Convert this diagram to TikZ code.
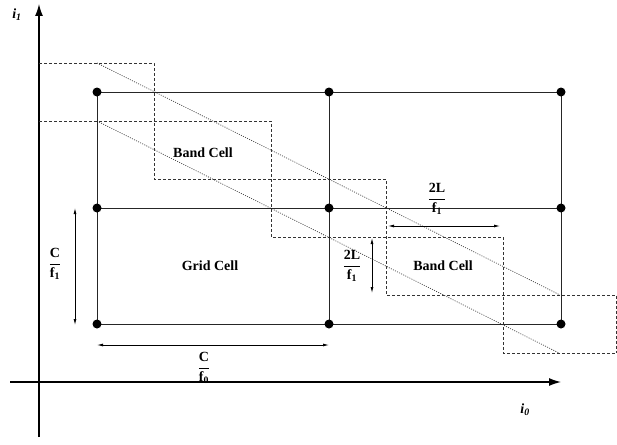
\documentclass[tikz,border=0pt]{standalone}
\usepackage{fontspec}
\usepackage{amsmath}
\setmainfont{Liberation Serif}
\usetikzlibrary{arrows.meta}
\begin{document}
\begin{tikzpicture}[x=1pt,y=-1pt,
  axis/.style={line width=1.3pt,-{Latex[length=12pt,width=8pt]}},
  gridline/.style={line width=1pt,draw=black!85},
  dot/.style={circle,fill=black,inner sep=0pt,minimum size=9pt},
  stair/.style={line width=0.8pt,dash pattern=on 3pt off 2pt,draw=black!80},
  diag/.style={line width=0.7pt,dash pattern=on 1pt off 1.3pt,draw=black!75},
  dim/.style={line width=0.8pt,{Latex[length=6pt,width=3pt]}-{Latex[length=6pt,width=3pt]}},
  lbl/.style={font=\fontsize{14}{16}\selectfont\bfseries,inner sep=0pt},
  frac/.style={font=\fontsize{14}{16}\selectfont,inner sep=0pt}
]
\useasboundingbox (0,0) rectangle (617,444);
% axes
\coordinate (yb) at (39,437); \coordinate (yt) at (39,4);
\coordinate (xl) at (10,382); \coordinate (xr) at (561,382);
\draw[axis] (yb) -- (yt);
\draw[axis] (xl) -- (xr);
\node[frac] (i1) at (17,15) {$\textbf{\textit{i}}_{\textit{\textbf{1}}}$};
\node[frac] (i0) at (525,410) {$\textbf{\textit{i}}_{\textit{\textbf{0}}}$};
% staircases
\draw[stair] (39,63) -- (154,63) -- (154,179) -- (386,179) -- (386,295) -- (616.5,295) -- (616.5,353);
\draw[stair] (39,121) -- (271,121) -- (271,237) -- (503,237) -- (503,353) -- (617,353);
% diagonals
\draw[diag] (97,63) -- (560,295);
\draw[diag] (97,121) -- (559,353);
% grid
\foreach \i/\x in {0/97,1/329,2/561}{
  \foreach \j/\y in {0/92,1/208,2/324}{
    \coordinate (g\i\j) at (\x,\y);
  }
}
\foreach \j in {0,1,2}{ \draw[gridline] (g0\j) -- (g2\j); }
\foreach \i in {0,1,2}{ \draw[gridline] (g\i0) -- (g\i2); }
\foreach \i in {0,1,2}{ \foreach \j in {0,1,2}{ \node[dot] (d\i\j) at (g\i\j) {}; } }
% labels
\node[lbl] (bc1) at (203,153) {Band Cell};
\node[lbl] (gc) at (210,266) {Grid Cell};
\node[lbl] (bc2) at (443,266) {Band Cell};
% dimension arrows
\coordinate (v1a) at (75,208); \coordinate (v1b) at (75,325);
\draw[dim] (v1a) -- (v1b);
\node[frac] (cf1) at (55,264) {$\dfrac{\textbf{C}}{\textbf{f}_{\textbf{1}}}$};
\coordinate (h0a) at (97,345); \coordinate (h0b) at (329,345);
\draw[dim] (h0a) -- (h0b);
\node[frac] (cf0) at (204,368) {$\dfrac{\textbf{C}}{\textbf{f}_{\textbf{0}}}$};
\coordinate (h2a) at (388,226); \coordinate (h2b) at (500,226);
\draw[dim] (h2a) -- (h2b);
\node[frac] (lf1) at (437,199) {$\dfrac{\textbf{2L}}{\textbf{f}_{\textbf{1}}}$};
\coordinate (v2a) at (372,238); \coordinate (v2b) at (372,293);
\draw[dim] (v2a) -- (v2b);
\node[frac] (lf2) at (352,266) {$\dfrac{\textbf{2L}}{\textbf{f}_{\textbf{1}}}$};
\end{tikzpicture}
\end{document}
